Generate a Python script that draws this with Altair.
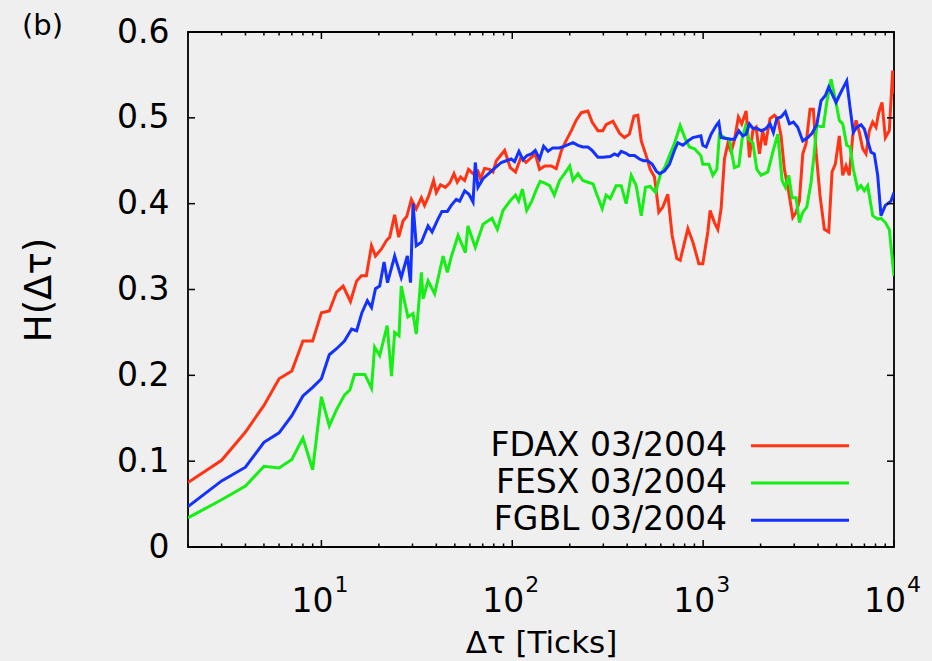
import altair as alt
import pandas as pd

# Hurst exponent H versus time lag (in ticks) for three futures contracts
fdax_tau = [2, 3, 4, 5, 6, 7, 8, 9, 10, 11, 12,
            13.0, 14.2, 15.3, 16.2, 17.2, 18.3, 19.2, 20.6, 21.9, 22.8,
            24.2, 25.4, 26.8, 28.0, 29.6, 31.4, 33.4, 34.7, 36.5, 38.7,
            40.0, 42.1, 44.6, 47.0, 49.5, 51.5, 53.6, 56.3, 59.0, 62.3,
            66.1, 68.2, 71.6, 76.1, 79.3, 82.5, 91.2,
            97.6, 104, 111, 118, 126, 132, 139, 148, 160, 170,
            181, 190, 204, 216, 230, 249, 262, 281, 298, 310,
            337, 365, 387, 411, 434, 455, 474, 503, 528, 556,
            586, 615, 653, 688, 728, 758, 832, 884, 950, 996,
            1058, 1088, 1146, 1194, 1242, 1293, 1347, 1402, 1458, 1530,
            1594, 1680, 1748, 1821, 1895, 1972, 2054, 2120, 2182, 2243,
            2362, 2461, 2561, 2665, 2810, 2949, 3069, 3193, 3327, 3462,
            3633, 3781, 3906, 4099, 4317, 4551, 4736, 4928, 5171, 5387,
            5606, 5834, 6078, 6324, 6581, 6856, 7135, 7425, 7735, 8049,
            8316, 8654, 9006, 9450, 9844, 10000]
fdax_h = [0.075, 0.101, 0.134, 0.165, 0.196, 0.205, 0.240, 0.240, 0.273, 0.275, 0.297,
          0.304, 0.286, 0.310, 0.316, 0.316, 0.351, 0.339, 0.347, 0.357, 0.361,
          0.387, 0.361, 0.380, 0.385, 0.405, 0.394, 0.407, 0.398, 0.409, 0.427,
          0.413, 0.422, 0.419, 0.424, 0.435, 0.425, 0.431, 0.427, 0.440, 0.435,
          0.438, 0.429, 0.441, 0.440, 0.437, 0.450, 0.462,
          0.442, 0.437, 0.454, 0.448, 0.454, 0.458, 0.440, 0.444, 0.444, 0.441,
          0.462, 0.472, 0.485, 0.497, 0.506, 0.508, 0.495, 0.485, 0.485, 0.492,
          0.496, 0.482, 0.477, 0.481, 0.502, 0.503, 0.473, 0.456, 0.440, 0.431,
          0.390, 0.396, 0.411, 0.363, 0.336, 0.334, 0.371, 0.355, 0.330, 0.330,
          0.367, 0.392, 0.378, 0.370, 0.394, 0.452, 0.470, 0.460, 0.474, 0.501,
          0.493, 0.508, 0.454, 0.485, 0.489, 0.458, 0.485, 0.468, 0.485, 0.499,
          0.503, 0.499, 0.479, 0.440, 0.413, 0.384, 0.390, 0.403, 0.458, 0.470,
          0.510, 0.510, 0.460, 0.409, 0.370, 0.367, 0.437, 0.446, 0.479, 0.433,
          0.444, 0.433, 0.479, 0.497, 0.483, 0.464, 0.458, 0.485, 0.495, 0.489,
          0.506, 0.518, 0.477, 0.485, 0.555, 0.528]

fesx_tau = [2, 3, 4, 5, 6, 7, 8, 9, 10, 11, 12,
            13.2, 14.1, 14.9, 16.9, 18.3, 19.0, 20.2, 22.1, 23.3, 24.2,
            25.5, 26.2, 28.4, 30.2, 31.4, 33.4, 34.1, 36.2, 39.2, 43.4,
            45.7, 47.9, 52.0, 56.8, 58.6, 64.0, 70.3, 78.3, 83.5, 89.4,
            98.8, 104, 108, 113, 119, 126, 134, 140, 148, 157,
            166, 177, 188, 200, 208, 221, 234, 249, 265, 278,
            296, 310, 326, 350, 372, 395, 420, 446, 474, 499,
            528, 563, 596, 635, 666, 707, 758, 808, 848, 901,
            973, 996, 1071, 1124, 1180, 1217, 1293, 1373, 1458, 1538,
            1600, 1666, 1735, 1821, 1911, 2013, 2182, 2317, 2461, 2592,
            2697, 2810, 2924, 3069, 3193, 3327, 3491, 3677, 3825, 3938,
            4099, 4265, 4443, 4680, 4928, 5171, 5387, 5654, 5884, 6122,
            6455, 6718, 6991, 7281, 7735, 8215, 8549, 9006, 9450, 10000]
fesx_h = [0.034, 0.055, 0.071, 0.094, 0.092, 0.102, 0.127, 0.090, 0.175, 0.141, 0.160,
          0.177, 0.183, 0.201, 0.201, 0.185, 0.233, 0.223, 0.258, 0.199, 0.250,
          0.246, 0.304, 0.268, 0.272, 0.248, 0.320, 0.289, 0.310, 0.295, 0.339,
          0.320, 0.338, 0.363, 0.343, 0.374, 0.349, 0.376, 0.383, 0.370, 0.392,
          0.405, 0.410, 0.403, 0.417, 0.392, 0.402, 0.417, 0.426, 0.424, 0.421,
          0.410, 0.427, 0.435, 0.444, 0.427, 0.435, 0.427, 0.425, 0.423, 0.410,
          0.394, 0.410, 0.406, 0.421, 0.421, 0.400, 0.433, 0.421, 0.386, 0.419,
          0.420, 0.413, 0.433, 0.444, 0.456, 0.470, 0.491, 0.475, 0.466, 0.464,
          0.456, 0.446, 0.446, 0.433, 0.440, 0.481, 0.477, 0.475, 0.442, 0.444,
          0.475, 0.490, 0.475, 0.471, 0.440, 0.433, 0.437, 0.460, 0.481, 0.427,
          0.419, 0.433, 0.407, 0.407, 0.378, 0.390, 0.396, 0.425, 0.460, 0.491,
          0.490, 0.490, 0.518, 0.545, 0.522, 0.497, 0.493, 0.468, 0.466, 0.440,
          0.417, 0.421, 0.415, 0.421, 0.386, 0.382, 0.383, 0.378, 0.370, 0.316]

fgbl_tau = [2, 3, 4, 5, 6, 7, 8, 9, 10, 11, 12,
            13.2, 14.4, 15.3, 16.3, 17.4, 18.3, 19.2, 20.2, 21.3, 22.2,
            24.2, 26.2, 28.2, 29.3, 30.2, 31.4, 33.4, 36.2, 38.0, 40.8,
            42.8, 45.7, 47.9, 50.9, 53.0, 56.3, 59.3, 62.3, 64.0, 66.1,
            70.3, 77.7, 87.6, 93.0, 98.8, 102.8, 108.4, 113.8, 119.4, 126,
            132, 139, 146, 154, 163, 176, 188, 208, 221, 234,
            249, 262, 281, 298, 326, 343, 358, 372, 392, 411,
            437, 464, 487, 513, 541, 568, 590, 627, 666, 707,
            737, 783, 832, 884, 973, 996, 1037, 1101, 1170, 1208,
            1242, 1319, 1402, 1458, 1538, 1614, 1680, 1748, 1821, 1911,
            2013, 2120, 2243, 2334, 2431, 2561, 2697, 2830, 2971, 3131,
            3327, 3533, 3721, 3938, 4148, 4370, 4551, 4736, 4969, 5171,
            5387, 5654, 5884, 6122, 6378, 6718, 6991, 7281, 7577, 7885,
            8215, 8549, 9006, 9645, 10000]
fgbl_h = [0.047, 0.077, 0.093, 0.122, 0.133, 0.153, 0.176, 0.186, 0.196, 0.224, 0.231,
          0.240, 0.254, 0.252, 0.273, 0.287, 0.279, 0.301, 0.304, 0.332, 0.308,
          0.339, 0.314, 0.339, 0.308, 0.400, 0.351, 0.355, 0.374, 0.367, 0.382,
          0.391, 0.391, 0.398, 0.405, 0.403, 0.415, 0.411, 0.402, 0.448, 0.419,
          0.429, 0.438, 0.448, 0.450, 0.452, 0.449, 0.461, 0.451, 0.456, 0.458,
          0.462, 0.452, 0.467, 0.461, 0.465, 0.465, 0.467, 0.471, 0.468, 0.466,
          0.466, 0.462, 0.454, 0.454, 0.455, 0.458, 0.456, 0.461, 0.459, 0.456,
          0.456, 0.452, 0.450, 0.450, 0.446, 0.438, 0.435, 0.438, 0.446, 0.462,
          0.471, 0.468, 0.473, 0.477, 0.479, 0.468, 0.466, 0.481, 0.491, 0.495,
          0.477, 0.476, 0.475, 0.475, 0.485, 0.479, 0.481, 0.493, 0.488, 0.488,
          0.485, 0.487, 0.493, 0.483, 0.499, 0.501, 0.507, 0.493, 0.495, 0.489,
          0.473, 0.477, 0.482, 0.492, 0.520, 0.526, 0.536, 0.528, 0.518, 0.526,
          0.534, 0.543, 0.512, 0.483, 0.489, 0.492, 0.487, 0.473, 0.460, 0.458,
          0.433, 0.386, 0.398, 0.403, 0.413]

series_names = ["FDAX 03/2004", "FESX 03/2004", "FGBL 03/2004"]
series_colors = ["#ff3414", "#16ee16", "#1432ff"]

x_major = [10, 100, 1000, 10000]
x_exponents = ["1", "2", "3", "4"]
x_minor = [2, 3, 4, 5, 6, 7, 8, 9,
           20, 30, 40, 50, 60, 70, 80, 90,
           200, 300, 400, 500, 600, 700, 800, 900,
           2000, 3000, 4000, 5000, 6000, 7000, 8000, 9000]
y_ticks = [0.1, 0.2, 0.3, 0.4, 0.5]
y_labels = [0, 0.1, 0.2, 0.3, 0.4, 0.5, 0.6]

W, H = 706, 515
FONT = "DejaVu Sans"
FS = 33

x_scale = alt.Scale(type="log", domain=[2, 10000], nice=False)
y_scale = alt.Scale(domain=[0, 0.6], nice=False, zero=False)

x_axis = alt.Axis(labels=False, ticks=False, domain=False, grid=False,
                  title="Δτ [Ticks]", titleFont=FONT, titleFontSize=31,
                  titleFontWeight="normal", titleColor="black",
                  titleBaseline="alphabetic", titleY=105)
y_axis = alt.Axis(values=y_labels, ticks=False, domain=False, grid=False,
                  labelExpr="datum.value == 0 ? '0' : format(datum.value, '.1f')",
                  labelFont=FONT, labelFontSize=FS, labelColor="black",
                  labelPadding=19,
                  title="H(Δτ)", titleFont=FONT, titleFontSize=37,
                  titleFontWeight="normal", titleColor="black",
                  titleAngle=-90, titleBaseline="middle", titleAlign="center",
                  titleX=-149, titleY=H / 2)

X = lambda f: alt.X(f, scale=x_scale, axis=x_axis)
Y = lambda f: alt.Y(f, scale=y_scale, axis=y_axis)


def series_line(tau, h, color):
    df = pd.DataFrame({"tau": tau, "H": h})
    return alt.Chart(df).mark_line(
        color=color, strokeWidth=3, clip=True,
        strokeJoin="miter", strokeMiterLimit=4,
    ).encode(x=X("tau:Q"), y=Y("H:Q"))


lines = [
    series_line(fdax_tau, fdax_h, series_colors[0]),
    series_line(fesx_tau, fesx_h, series_colors[1]),
    series_line(fgbl_tau, fgbl_h, series_colors[2]),
]

# inward tick marks on all four sides of the frame
minor_df = pd.DataFrame({"v": x_minor})
major_df = pd.DataFrame({"v": x_major})
ytick_df = pd.DataFrame({"v": y_ticks})
tick_style = dict(color="black", strokeWidth=1.5)

ticks = [
    alt.Chart(minor_df).mark_rule(**tick_style).encode(
        x=X("v:Q"), y=alt.value(H), y2=alt.value(H - 3.5)),
    alt.Chart(minor_df).mark_rule(**tick_style).encode(
        x=X("v:Q"), y=alt.value(0), y2=alt.value(3.5)),
    alt.Chart(major_df).mark_rule(**tick_style).encode(
        x=X("v:Q"), y=alt.value(H), y2=alt.value(H - 7)),
    alt.Chart(major_df).mark_rule(**tick_style).encode(
        x=X("v:Q"), y=alt.value(0), y2=alt.value(7)),
    alt.Chart(ytick_df).mark_rule(**tick_style).encode(
        y=Y("v:Q"), x=alt.value(0), x2=alt.value(7)),
    alt.Chart(ytick_df).mark_rule(**tick_style).encode(
        y=Y("v:Q"), x=alt.value(W), x2=alt.value(W - 7)),
]

# x tick labels written as powers of ten
label_df = pd.DataFrame({"v": x_major, "e": x_exponents})
xlabels = [
    alt.Chart(label_df).mark_text(
        font=FONT, fontSize=FS, align="right", baseline="alphabetic",
        dx=12, color="black",
    ).encode(x=X("v:Q"), y=alt.value(H + 65), text=alt.value("10")),
    alt.Chart(label_df).mark_text(
        font=FONT, fontSize=22, align="left", baseline="alphabetic",
        dx=13, color="black",
    ).encode(x=X("v:Q"), y=alt.value(H + 45), text="e:N"),
]

# key in the lower right: label text followed by a line sample
key_rows = [413.7, 451.0, 488.3]
key = []
for name, color, ky in zip(series_names, series_colors, key_rows):
    row = pd.DataFrame({"name": [name]})
    key.append(alt.Chart(row).mark_text(
        font=FONT, fontSize=FS, align="right", baseline="middle", color="black",
    ).encode(x=alt.value(539), y=alt.value(ky), text="name:N"))
    key.append(alt.Chart(row).mark_rule(color=color, strokeWidth=3).encode(
        x=alt.value(563), x2=alt.value(661), y=alt.value(ky)))

panel = alt.Chart(pd.DataFrame({"t": ["(b)"]})).mark_text(
    font=FONT, fontSize=29, align="left", baseline="alphabetic", color="black",
).encode(x=alt.value(-166), y=alt.value(3), text="t:N")

chart = alt.layer(*lines, *ticks, *xlabels, *key, panel).properties(
    width=W, height=H,
    padding={"left": 188, "top": 32, "right": 38, "bottom": 114},
    autosize=alt.AutoSizeParams(type="none"),
    background="#efefef",
).configure_view(stroke="black", strokeWidth=1.8, fill="#efefef")

chart.save("out.html", embed_options={"renderer": "svg", "actions": False})
